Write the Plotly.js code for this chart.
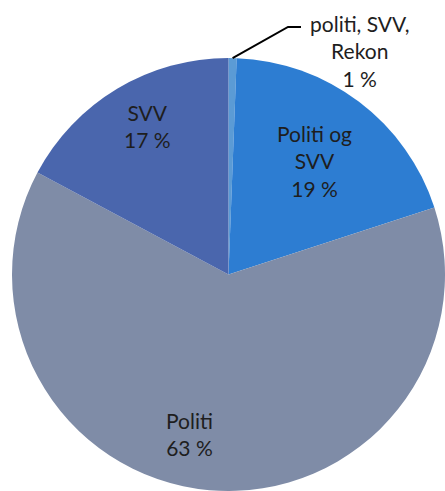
<!DOCTYPE html>
<html>
<head>
<meta charset="utf-8">
<script src="https://cdn.plot.ly/plotly-3.0.1.min.js"></script>
<style>
  html, body { margin: 0; padding: 0; overflow: hidden; background: #fff; }
  #chart { width: 445px; height: 491px; }
</style>
</head>
<body>
<div id="chart"></div>
<script>
// ---- data ----
var labels = ['politi, SVV, Rekon', 'Politi og SVV', 'Politi', 'SVV'];
var displayLabels = ['politi, SVV,<br>Rekon', 'Politi og<br>SVV', 'Politi', 'SVV'];
var values = [0.6, 19.4, 62.8, 17.2];

// ---- style ----
var colors = ['#5b9bd5', '#2d7dd2', '#7f8ca7', '#4a66ad'];
var W = 445, H = 491;
var cx = 228.5, cy = 274.5, R = 216.5;   // pie geometry in px
var FONT = { family: 'Lato, "Open Sans", sans-serif', size: 21, color: '#1e1e1e' };
// label placement: [radius factor, angle nudge in degrees]; null = outside label
var labelPlace = [null, [0.66, 0], [0.757, 8.8], [0.78, 2.2]];
var outsideText = { x: 360, y: 51 };
var leaderElbow = [{ x: 288, y: 27 }, { x: 301, y: 27 }];

var total = values.reduce(function (a, b) { return a + b; }, 0);
function pct(v) { return Math.round(v / total * 100) + ' %'; }
function px2paper(x, y) { return { x: x / W, y: 1 - y / H }; }

var annotations = [];
var shapes = [];
var cum = 0;
for (var i = 0; i < values.length; i++) {
  var mid = (cum + values[i] / 2) / total * 2 * Math.PI;
  cum += values[i];
  var text = displayLabels[i] + '<br>' + pct(values[i]);
  if (labelPlace[i]) {
    var a = mid + labelPlace[i][1] * Math.PI / 180;
    var rr = labelPlace[i][0] * R;
    var p = px2paper(cx + rr * Math.sin(a), cy - rr * Math.cos(a));
    annotations.push({ x: p.x, y: p.y, xref: 'paper', yref: 'paper', text: text,
      showarrow: false, xanchor: 'center', yanchor: 'middle', align: 'center', font: FONT });
  } else {
    var e = { x: cx + R * Math.sin(mid), y: cy - R * Math.cos(mid) };
    var q = px2paper(outsideText.x, outsideText.y);
    annotations.push({ x: q.x, y: q.y, xref: 'paper', yref: 'paper', text: text,
      showarrow: false, xanchor: 'center', yanchor: 'middle', align: 'center', font: FONT });
    var pts = [e].concat(leaderElbow).map(function (pt) { return px2paper(pt.x, pt.y); });
    var path = 'M ' + pts.map(function (pt) { return pt.x + ',' + pt.y; }).join(' L ');
    shapes.push({ type: 'path', xref: 'paper', yref: 'paper', path: path,
      line: { color: '#000', width: 2 } });
  }
}

var trace = {
  type: 'pie',
  labels: labels,
  values: values,
  sort: false,
  direction: 'clockwise',
  rotation: 0,
  textinfo: 'none',
  hoverinfo: 'skip',
  marker: { colors: colors, line: { width: 0 } },
  domain: { x: [12 / W, 1], y: [0, 1 - 58 / H] },
  showlegend: false
};

var layout = {
  width: W, height: H,
  margin: { l: 0, r: 0, t: 0, b: 0 },
  paper_bgcolor: '#fff',
  showlegend: false,
  annotations: annotations,
  shapes: shapes
};

Plotly.newPlot('chart', [trace], layout, { staticPlot: true, displayModeBar: false });
</script>
</body>
</html>
